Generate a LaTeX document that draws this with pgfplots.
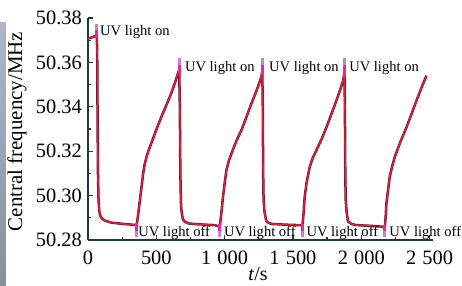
\documentclass[border=0pt]{standalone}
\usepackage{pgfplots}
\usepackage{pgfplotstable}
\pgfplotsset{compat=1.18}
\usepackage{fontspec}
\setmainfont{Liberation Serif}
\usetikzlibrary{shadings}
\definecolor{axcol}{RGB}{30,58,62}
\definecolor{curvedark}{RGB}{110,20,40}
\definecolor{curvered}{RGB}{228,32,58}
\definecolor{markmag}{RGB}{225,40,170}
\definecolor{markpur}{RGB}{190,130,220}
\definecolor{stripA}{RGB}{172,184,200}
\definecolor{stripB}{RGB}{138,144,154}

\pgfplotstableread{
t v
0 50.3708
25 50.3712
49 50.3718
60 50.3722
65 50.3715
68 50.3600
70 50.3350
73 50.3100
77 50.2980
82 50.2935
88 50.2912
100 50.2898
122 50.2888
150 50.2882
173 50.2878
250 50.2873
342 50.2868
356 50.2865
365 50.2905
375 50.2955
391 50.3035
405 50.3105
415 50.3142
430 50.3178
446 50.3208
464 50.3237
500 50.3297
537 50.3355
575 50.3410
610 50.3462
640 50.3515
659 50.3552
666 50.3562
668 50.3555
672 50.3400
676 50.3100
680 50.2970
685 50.2925
695 50.2892
710 50.2882
732 50.2875
800 50.2871
927 50.2867
964 50.2860
975 50.2915
988 50.2995
1000 50.3055
1013 50.3115
1030 50.3155
1050 50.3190
1085 50.3245
1123 50.3295
1160 50.3355
1196 50.3415
1235 50.3475
1269 50.3535
1274 50.3555
1276 50.3550
1279 50.3400
1282 50.3100
1285 50.2980
1292 50.2925
1306 50.2883
1330 50.2875
1352 50.2872
1450 50.2869
1550 50.2867
1569 50.2864
1577 50.2915
1586 50.2995
1600 50.3060
1623 50.3130
1645 50.3170
1672 50.3205
1710 50.3255
1745 50.3308
1780 50.3365
1818 50.3428
1845 50.3475
1867 50.3518
1875 50.3549
1877 50.3540
1880 50.3400
1883 50.3100
1886 50.2980
1893 50.2925
1903 50.2883
1930 50.2872
1965 50.2867
2060 50.2864
2159 50.2860
2172 50.2858
2178 50.2900
2184 50.2966
2196 50.3025
2208 50.3084
2225 50.3130
2245 50.3174
2285 50.3240
2331 50.3308
2368 50.3368
2404 50.3428
2440 50.3485
2477 50.3540
}\curvedata

\begin{document}
\begin{tikzpicture}[x=1bp,y=1bp]
\fill[top color=stripA, bottom color=stripB] (-88,-45) rectangle (-82,218);
\begin{axis}[
  at={(0,0)}, anchor=south west, scale only axis,
  width=345bp, height=222bp,
  xmin=0, xmax=2525, ymin=50.28, ymax=50.38,
  clip=false,
  axis x line*=bottom, axis y line*=left,
  axis line style={axcol, line width=1.5bp},
  xtick={0,500,1000,1500,2000,2500},
  minor xtick={250,750,1250,1750,2250},
  ytick={50.28,50.30,50.32,50.34,50.36,50.38},
  minor ytick={50.29,50.31,50.33,50.35,50.37},
  tick align=inside,
  major tick length=5bp, minor tick length=3bp,
  tick style={axcol, line width=1.3bp},
  /pgf/number format/assume math mode=true,
  tick label style={font=\fontsize{20.5}{22}\selectfont},
  yticklabel style={anchor=east, inner sep=0pt, xshift=-6bp,
    /pgf/number format/.cd, fixed, fixed zerofill, precision=2},
  xticklabel style={anchor=north, inner sep=0pt, yshift=-11bp,
    /pgf/number format/1000 sep={\hspace{0.3em}}},
  ylabel={Central frequency/MHz},
  ylabel style={at={(axis description cs:-0.2058,0.489)}, anchor=center,
    font=\fontsize{21}{24}\selectfont},
  xlabel={\textit{t}/s},
  xlabel style={at={(axis description cs:0.493,-0.153)}, anchor=center,
    font=\fontsize{20}{22}\selectfont},
]
\addplot[curvedark, line width=2.5bp, line join=round] table[x=t, y=v] {\curvedata};
\addplot[curvered, line width=1.3bp, line join=round] table[x=t, y=v] {\curvedata};
% UV on marks
\addplot[markmag, line width=3bp] coordinates {(60,50.3712) (60,50.3745)};
\addplot[markpur, line width=3bp] coordinates {(60,50.3745) (60,50.3772)};
\addplot[markmag, line width=3bp] coordinates {(666,50.3552) (666,50.3590)};
\addplot[markpur, line width=3bp] coordinates {(666,50.3590) (666,50.3618)};
\addplot[markmag, line width=3bp] coordinates {(1274,50.3545) (1274,50.3590)};
\addplot[markpur, line width=3bp] coordinates {(1274,50.3590) (1274,50.3618)};
\addplot[markmag, line width=3bp] coordinates {(1875,50.3540) (1875,50.3590)};
\addplot[markpur, line width=3bp] coordinates {(1875,50.3590) (1875,50.3618)};
% UV off marks
\addplot[markmag, line width=3bp] coordinates {(356,50.2875) (356,50.2840)};
\addplot[markpur, line width=3bp] coordinates {(356,50.2840) (356,50.2815)};
\addplot[markmag, line width=3bp] coordinates {(964,50.2870) (964,50.2840)};
\addplot[markpur, line width=3bp] coordinates {(964,50.2840) (964,50.2815)};
\addplot[markmag, line width=3bp] coordinates {(1569,50.2874) (1569,50.2840)};
\addplot[markpur, line width=3bp] coordinates {(1569,50.2840) (1569,50.2815)};
\addplot[markmag, line width=3bp] coordinates {(2172,50.2868) (2172,50.2840)};
\addplot[markpur, line width=3bp] coordinates {(2172,50.2840) (2172,50.2815)};
% annotations
\begin{scope}[every node/.style={anchor=base west, inner sep=0pt, font=\fontsize{14.6}{17}\selectfont}]
\node at (axis cs:88,50.3719) {UV light on};
\node at (axis cs:709,50.3561) {UV light on};
\node at (axis cs:1325,50.3561) {UV light on};
\node at (axis cs:1911,50.3561) {UV light on};
\node at (axis cs:367,50.2815) {UV light off};
\node at (axis cs:994,50.2815) {UV light off};
\node at (axis cs:1598,50.2815) {UV light off};
\node at (axis cs:2205,50.2815) {UV light off};
\end{scope}
\end{axis}
\pgfresetboundingbox
\path[use as bounding box] (-88,-45) rectangle (374,240);
\end{tikzpicture}
\end{document}
